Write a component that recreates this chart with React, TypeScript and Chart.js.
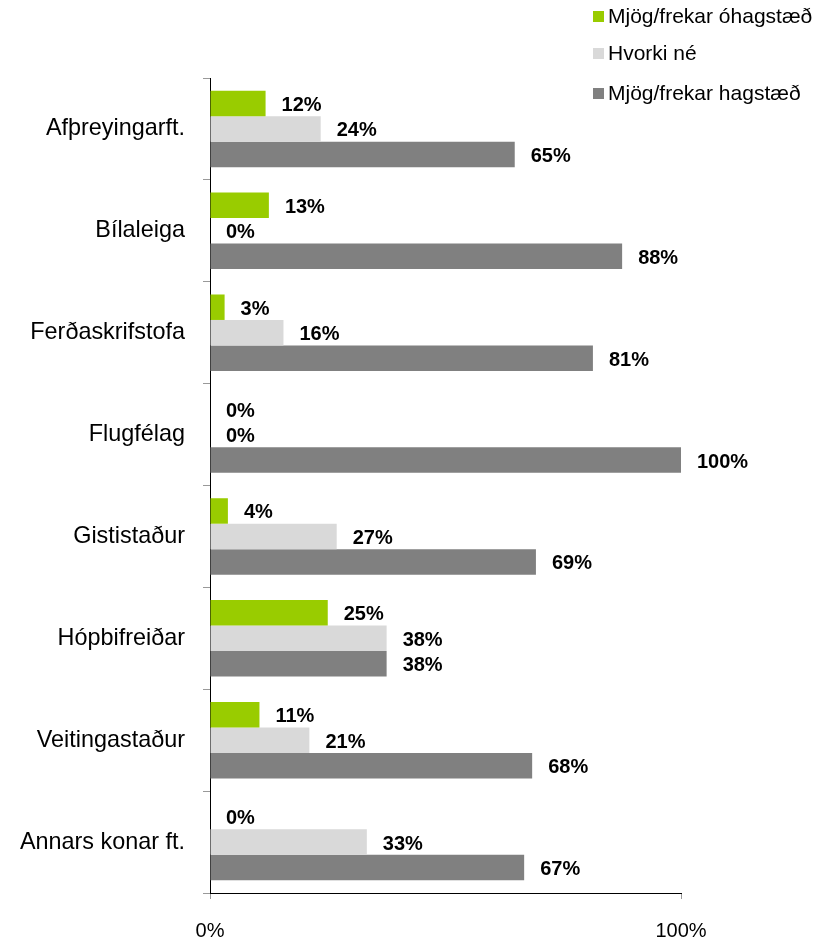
import React, { useEffect, useRef } from "react";
import { Chart, registerables } from "chart.js";

Chart.register(...registerables);

const categories = [
  "Afþreyingarft.",
  "Bílaleiga",
  "Ferðaskrifstofa",
  "Flugfélag",
  "Gististaður",
  "Hópbifreiðar",
  "Veitingastaður",
  "Annars konar ft.",
];
const unfavourable = [11.8, 12.5, 3.1, 0, 3.8, 25, 10.5, 0];
const neither = [23.5, 0, 15.6, 0, 26.9, 37.5, 21.1, 33.3];
const favourable = [64.7, 87.5, 81.3, 100, 69.2, 37.5, 68.4, 66.7];
const seriesNames = ["Mjög/frekar óhagstæð", "Hvorki né", "Mjög/frekar hagstæð"];
const seriesColors = ["#99CC00", "#D9D9D9", "#808080"];
const xTickLabels = ["0%", "100%"];

const FONT = "'Liberation Sans', Arial, Helvetica, sans-serif";

const valueLabels = {
  id: "valueLabels",
  afterDatasetsDraw(chart: any) {
    const ctx = chart.ctx;
    ctx.save();
    ctx.font = `bold 20px ${FONT}`;
    ctx.fillStyle = "#000";
    ctx.textBaseline = "middle";
    ctx.textAlign = "left";
    chart.data.datasets.forEach((ds: any, i: number) => {
      const meta = chart.getDatasetMeta(i);
      meta.data.forEach((bar: any, j: number) => {
        const v = ds.data[j] as number;
        ctx.fillText(Math.round(v) + "%", bar.x + 16, bar.y + 2);
      });
    });
    ctx.restore();
  },
};

export default function App() {
  const ref = useRef<HTMLCanvasElement | null>(null);

  useEffect(() => {
    if (!ref.current) return;
    const seriesData = [unfavourable, neither, favourable];
    const chart = new Chart(ref.current, {
      type: "bar",
      data: {
        labels: categories,
        datasets: seriesData.map((d, i) => ({
          label: seriesNames[i],
          data: d,
          backgroundColor: seriesColors[i],
          borderWidth: 0,
          barPercentage: 1,
          categoryPercentage: 0.75,
        })),
      },
      options: {
        indexAxis: "y",
        responsive: false,
        animation: false,
        layout: { padding: { top: 78, right: 146, left: 0, bottom: 0 } },
        plugins: {
          legend: { display: false },
          tooltip: { enabled: false },
        },
        scales: {
          x: {
            type: "linear",
            min: 0,
            max: 100,
            position: "bottom",
            ticks: {
              stepSize: 100,
              color: "#000",
              font: { size: 20, family: FONT },
              padding: 20,
              callback: (v: any) => (v === 0 ? xTickLabels[0] : v === 100 ? xTickLabels[1] : ""),
            },
            grid: { drawOnChartArea: false, tickLength: 6, color: "#999" },
            border: { color: "#000", width: 1 },
            afterFit: (s: any) => {
              s.height = 46;
            },
          },
          y: {
            type: "category",
            ticks: {
              color: "#000",
              font: { size: 23.4, family: FONT },
              padding: 18,
            },
            grid: { offset: true, drawOnChartArea: false, tickLength: 7, color: "#999" },
            border: { color: "#000", width: 1 },
            afterFit: (s: any) => {
              s.width = 210;
            },
          },
        },
      },
      plugins: [valueLabels],
    } as any);
    return () => chart.destroy();
  }, []);

  const legendTops = [16, 53, 93];

  return (
    <div style={{ position: "absolute", left: 0, top: 0, width: 827, height: 939, background: "#fff" }}>
      <canvas ref={ref} width={827} height={939} style={{ width: 827, height: 939, display: "block" }} />
      {seriesNames.map((name, i) => (
        <div
          key={name}
          style={{
            position: "absolute",
            left: 593,
            top: legendTops[i] - 12,
            height: 24,
            display: "flex",
            alignItems: "center",
            fontFamily: FONT,
            fontSize: 21,
            color: "#000",
            whiteSpace: "nowrap",
          }}
        >
          <span style={{ display: "inline-block", width: 11, height: 11, background: seriesColors[i], marginRight: 4 }} />
          <span>{name}</span>
        </div>
      ))}
    </div>
  );
}
